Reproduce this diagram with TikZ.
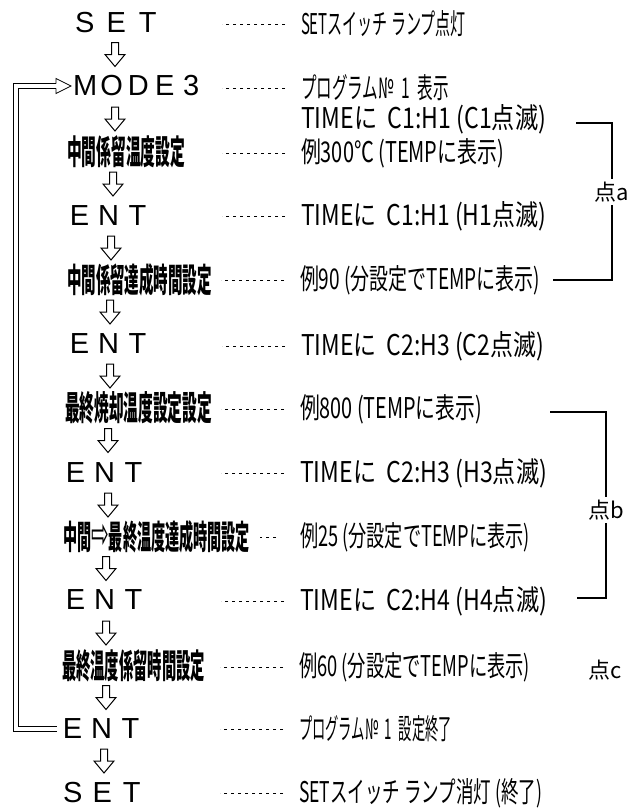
\documentclass[tikz,border=0pt]{standalone}
\usepackage{fontspec}
\usepackage{graphicx}
\usetikzlibrary{calc}
\setmainfont{Noto Sans CJK JP}
\newfontfamily\jp{Noto Sans CJK JP}
\newfontfamily\bigfont{Liberation Sans}
\newfontfamily\djv{DejaVu Sans}
\newlength\lbw
\newcommand\lb[1]{\makebox[\lbw]{#1}}
\newcommand\rt[2]{\resizebox{#1pt}{24pt}{#2}}
\newcommand\lt[2]{\resizebox{#1pt}{29pt}{#2}}
\begin{document}
\begin{tikzpicture}[x=1pt,y=-1pt,
  every node/.style={inner sep=0pt, outer sep=0pt},
  bigw/.style={anchor=west, font=\bigfont\fontsize{29}{29}\selectfont},
  lab/.style={anchor=west, font=\jp\bfseries\fontsize{25}{25}\selectfont},
  desc/.style={anchor=west, font=\jp\fontsize{22}{22}\selectfont},
  pt/.style={font=\jp\fontsize{22}{22}\selectfont, inner sep=3pt},
  leader/.style={line width=0.8pt, dash pattern=on 3pt off 4pt},
  br/.style={line width=1.1pt},
  dbl/.style={double, double distance=4pt, line width=0.8pt},
  darr/.pic={\draw[line width=1pt, fill=white, line join=miter]
     (-3.5,-12) -- (-3.5,0) -- (-10,0) -- (0,12) -- (10,0) -- (3.5,0) -- (3.5,-12) -- cycle;}
]
\useasboundingbox (0,0) rectangle (634,812);

% left column
\node[bigw] (set1) at (69,23) {\setlength\lbw{31.5pt}\lb{S}\lb{E}\lb{T}};
\node[bigw] (mode) at (72,86) {\setlength\lbw{26.5pt}\lb{M}\lb{O}\lb{D}\lb{E}\lb{3}};
\node[lab] (l1) at (67,152) {\lt{118}{中間係留温度設定}};
\node[bigw] (ent1) at (65,216) {\setlength\lbw{29pt}\lb{E}\lb{N}\lb{T}};
\node[lab] (l2) at (67,280) {\lt{145}{中間係留達成時間設定}};
\node[bigw] (ent2) at (65,344) {\setlength\lbw{29pt}\lb{E}\lb{N}\lb{T}};
\node[lab] (l3) at (65,408) {\lt{147}{最終焼却温度設定設定}};
\node[bigw] (ent3) at (61,473) {\setlength\lbw{29pt}\lb{E}\lb{N}\lb{T}};
\node[lab] (l4) at (63,537) {\lt{187}{中間\raisebox{1pt}{\djv\mdseries\scalebox{1.5}[1.3]{⇨}}最終温度達成時間設定}};
\node[bigw] (ent4) at (61,600) {\setlength\lbw{29pt}\lb{E}\lb{N}\lb{T}};
\node[lab] (l5) at (62,666) {\lt{143}{最終温度係留時間設定}};
\node[bigw] (ent5) at (58,729) {\setlength\lbw{29pt}\lb{E}\lb{N}\lb{T}};
\node[bigw] (set2) at (58,793) {\setlength\lbw{29.5pt}\lb{S}\lb{E}\lb{T}};

% right column
\node[desc] (r0) at (301,24) {\rt{165}{SETスイッチ\ ランプ点灯}};
\node[desc] (r1) at (301,88) {\rt{148}{プログラム№\enspace 1\enspace 表示}};
\node[desc] (r2) at (301,119) {\rt{245}{TIMEに\ \ C1:H1 (C1点滅)}};
\node[desc] (r3) at (301,153) {\rt{203}{例300℃ (TEMPに表示)}};
\node[desc] (r4) at (301,216) {\rt{245}{TIMEに\ \ C1:H1 (H1点滅)}};
\node[desc] (r5) at (300,280) {\rt{240}{例90 (分設定でTEMPに表示)}};
\node[desc] (r6) at (301,346) {\rt{243}{TIMEに\ \ C2:H3 (C2点滅)}};
\node[desc] (r7) at (300,409) {\rt{182}{例800 (TEMPに表示)}};
\node[desc] (r8) at (300,473) {\rt{247}{TIMEに\ \ C2:H3 (H3点滅)}};
\node[desc] (r9) at (300,537) {\rt{230}{例25 (分設定でTEMPに表示)}};
\node[desc] (r10) at (300,601) {\rt{247}{TIMEに\ \ C2:H4 (H4点滅)}};
\node[desc] (r11) at (299,667) {\rt{231}{例60 (分設定でTEMPに表示)}};
\node[desc] (r12) at (299,729) {\rt{153}{プログラム№\enspace 1\enspace 設定終了}};
\node[desc] (r13) at (299,793) {\rt{243}{SETスイッチ\ ランプ消灯 (終了)}};

% leaders
\foreach \r in {r0,r1,r3,r4,r5,r6,r7,r8,r10,r11,r12,r13}
  \draw[leader] ([xshift=-16pt]\r.west) -- ([xshift=-79pt]\r.west);
\draw[leader] ([xshift=-24pt]r9.west) -- ([xshift=-40pt]r9.west);

% down arrows
\foreach \aa/\bb/\ax in {set1/mode/115, mode/l1/115, l1/ent1/113, ent1/l2/111,
    l2/ent2/110, ent2/l3/110, l3/ent3/108, ent3/l4/108, l4/ent4/106,
    ent4/l5/106, l5/ent5/106, ent5/set2/104}
  \path let \p1 = ($(\aa)!.5!(\bb)$) in (\ax pt,\y1) pic {darr};

% feedback loop
\coordinate (lx) at (16,0);
\draw[dbl] ([xshift=-1pt]ent5.west) -- (ent5.west -| lx) -- (mode.west -| lx) -- ([xshift=-16pt]mode.west);
\draw[line width=0.8pt, line join=miter]
  ([shift={(-16,-2.4)}]mode.west) -- ([shift={(-16,-7.5)}]mode.west) --
  ([shift={(-1,0)}]mode.west) -- ([shift={(-16,7.5)}]mode.west) --
  ([shift={(-16,2.4)}]mode.west);

% brackets
\node[pt] (pa) at (612,192) {点a};
\draw[br] ([xshift=30pt,yshift=-4pt]r2.east) -| (pa.north);
\draw[br] (pa.south) |- ([xshift=13pt]r5.east);
\node[pt] (pb) at (606,510) {点b};
\draw[br] ([xshift=68pt,yshift=-3pt]r7.east) -| (pb.north);
\draw[br] (pb.south) |- ([xshift=30pt,yshift=3pt]r10.east);
\node[pt] (pc) at (605,670) {点c};
\end{tikzpicture}
\end{document}
